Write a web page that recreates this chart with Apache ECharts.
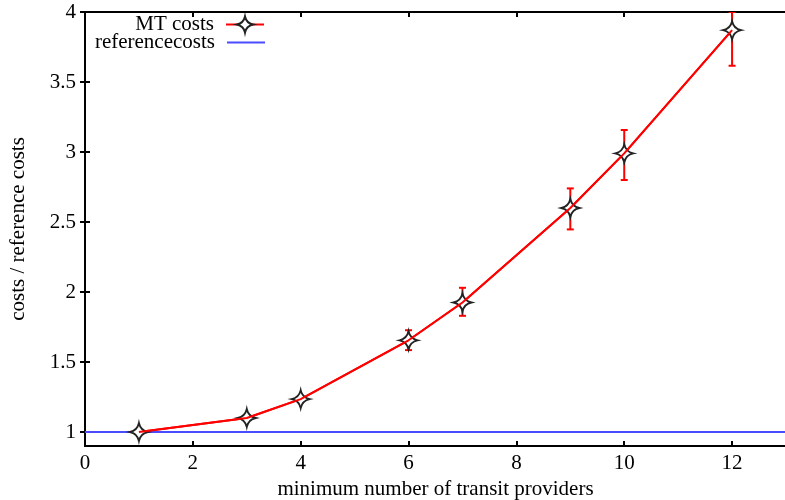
<!DOCTYPE html>
<html>
<head>
<meta charset="utf-8">
<script src="https://cdn.jsdelivr.net/npm/echarts@6/dist/echarts.min.js"></script>
<style>
  html, body { margin: 0; padding: 0; background: #fff; }
  #chart { width: 785px; height: 500px; }
</style>
</head>
<body>
<div id="chart"></div>
<script>
// Minimum number of transit providers vs. relative cost
const providers = [1, 3, 4, 6, 7, 9, 10, 12];
const mtCost    = [1.0, 1.10, 1.235, 1.655, 1.925, 2.60, 2.99, 3.87];
const mtLow     = [1.0, 1.095, 1.215, 1.585, 1.83, 2.447, 2.80, 3.616];
const mtHigh    = [1.0, 1.105, 1.255, 1.727, 2.03, 2.74, 3.157, 4.0];
const referenceX = [0, 13];
const referenceCost = [1, 1];

const xTicks = { min: 0, max: 13, interval: 2 };
const yTicks = { min: 0.9, max: 4 };
const yTickValues = [1, 1.5, 2, 2.5, 3, 3.5, 4];

const FONT = 'Liberation Serif';
const FS = 21;
const RED = '#ff0000';
const BLUE = '#4b4bff';
const STAR = 'path://M0,-10 Q1.8,-1.8 10,0 Q1.8,1.8 0,10 Q-1.8,1.8 -10,0 Q-1.8,-1.8 0,-10 Z';

const meanPts = providers.map((x, i) => [x, mtCost[i]]);
const errPts = providers.map((x, i) => [x, mtLow[i], mtHigh[i]]);
const refPts = referenceX.map((x, i) => [x, referenceCost[i]]);

const chart = echarts.init(document.getElementById('chart'), null, { renderer: 'canvas' });

const axisLineStyle = { show: true, lineStyle: { color: '#000', width: 2 } };
const tickStyle = { show: true, inside: true, length: 5, lineStyle: { color: '#000', width: 2 } };
const labelFont = { fontFamily: FONT, fontSize: FS, color: '#000' };
const legendText = { fontFamily: FONT, fontSize: FS, color: '#000', padding: [0, 7, 0, 0] };

const option = {
  backgroundColor: '#fff',
  animation: false,
  grid: { left: 85, top: 12, width: 701, height: 434, containLabel: false, outerBoundsMode: 'none' },
  legend: [
    {
      data: ['MT costs'],
      orient: 'vertical',
      align: 'right',
      right: 520,
      top: 14,
      padding: 0,
      itemWidth: 38,
      itemHeight: 20,
      textStyle: legendText,
      selectedMode: false
    },
    {
      data: [{ name: 'referencecosts', icon: 'rect' }],
      orient: 'vertical',
      align: 'right',
      right: 520,
      top: 32,
      padding: 0,
      itemWidth: 38,
      itemHeight: 2,
      itemStyle: { color: BLUE },
      textStyle: legendText,
      selectedMode: false
    }
  ],
  xAxis: [
    {
      type: 'value',
      min: xTicks.min, max: xTicks.max, interval: xTicks.interval,
      name: 'minimum number of transit providers',
      nameLocation: 'middle',
      nameGap: 29,
      nameTextStyle: labelFont,
      axisLine: axisLineStyle,
      axisTick: tickStyle,
      axisLabel: Object.assign({ margin: 7, showMaxLabel: false }, labelFont),
      splitLine: { show: false }
    },
    {
      type: 'value', position: 'top',
      min: xTicks.min, max: xTicks.max, interval: xTicks.interval,
      axisLine: axisLineStyle,
      axisTick: tickStyle,
      axisLabel: { show: false },
      splitLine: { show: false }
    }
  ],
  yAxis: [
    {
      type: 'value',
      min: yTicks.min, max: yTicks.max,
      name: 'costs / reference costs',
      nameLocation: 'middle',
      nameGap: 56,
      nameRotate: 90,
      nameTextStyle: labelFont,
      axisLine: axisLineStyle,
      axisTick: Object.assign({}, tickStyle, { customValues: yTickValues }),
      axisLabel: Object.assign({ margin: 9, customValues: yTickValues }, labelFont),
      splitLine: { show: false }
    },
    {
      type: 'value', position: 'right',
      min: yTicks.min, max: yTicks.max,
      axisLine: axisLineStyle,
      axisTick: Object.assign({}, tickStyle, { customValues: yTickValues }),
      axisLabel: { show: false },
      splitLine: { show: false }
    }
  ],
  series: [
    {
      name: 'referencecosts',
      type: 'line',
      data: refPts,
      showSymbol: false,
      symbol: 'none',
      color: BLUE,
      lineStyle: { color: BLUE, width: 2 },
      z: 2,
      silent: true
    },
    {
      type: 'custom',
      name: 'error',
      data: errPts,
      z: 3,
      silent: true,
      clip: true,
      renderItem: function (params, api) {
        const x = api.value(0);
        const lo = api.coord([x, api.value(1)]);
        const hi = api.coord([x, api.value(2)]);
        const cap = 3.5;
        const style = { stroke: RED, lineWidth: 2 };
        return {
          type: 'group',
          children: [
            { type: 'line', shape: { x1: lo[0], y1: lo[1], x2: hi[0], y2: hi[1] }, style: style },
            { type: 'line', shape: { x1: lo[0] - cap, y1: lo[1], x2: lo[0] + cap, y2: lo[1] }, style: style },
            { type: 'line', shape: { x1: hi[0] - cap, y1: hi[1], x2: hi[0] + cap, y2: hi[1] }, style: style }
          ]
        };
      }
    },
    {
      name: 'MT costs',
      type: 'line',
      data: meanPts,
      symbol: STAR,
      symbolSize: 18,
      color: RED,
      itemStyle: { color: '#fff', borderColor: '#222', borderWidth: 1.8 },
      lineStyle: { color: RED, width: 2 },
      z: 4,
      silent: true
    },
    {
      // red trace drawn over the markers' centres
      type: 'line',
      data: meanPts,
      showSymbol: false,
      symbol: 'none',
      lineStyle: { color: RED, width: 2 },
      z: 5,
      silent: true
    }
  ]
};

chart.setOption(option);
</script>
</body>
</html>
